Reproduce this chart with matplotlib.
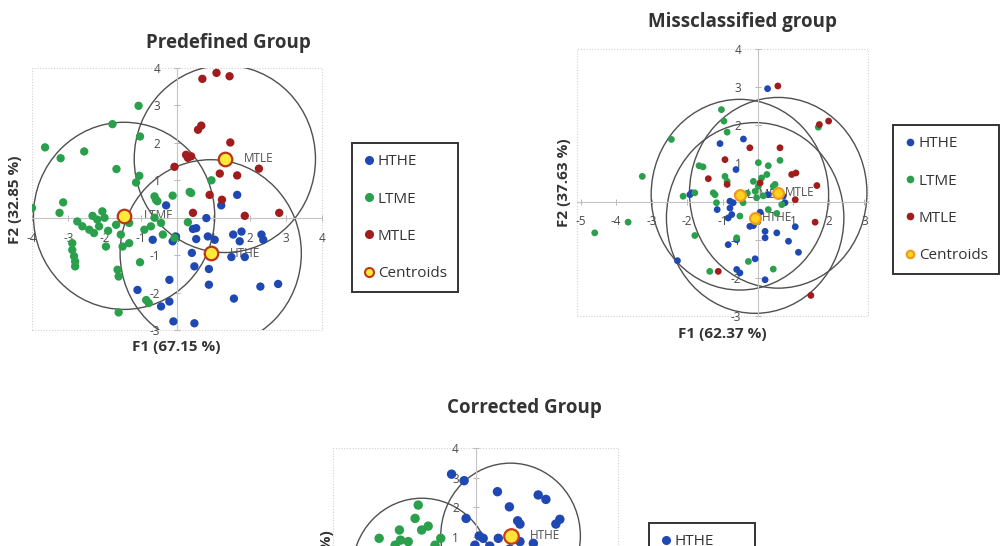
import matplotlib
matplotlib.use("Agg")
import matplotlib.pyplot as plt
from matplotlib.patches import Circle, Rectangle
from matplotlib.lines import Line2D

W, H = 1002, 546  # output size in pixels

plt.rcParams["font.family"] = ["Open Sans", "DejaVu Sans"]
plt.rcParams["axes.unicode_minus"] = False

BLUE = "#1f48b2"
GREEN = "#2a9f4c"
RED = "#a11c1c"
groups = ["HTHE", "LTME", "MTLE"]

# ---- Predefined Group ----
p1_hthe_x = [1.66, 1.22, -0.30, 0.81, 0.53, -0.12, 0.53, 0.85, 1.04, 1.55, 1.78, 1.73, 2.33, 2.38, 0.41, 1.50,
             1.87, 0.48, 0.88, -0.21, 0.88, 2.30, 2.79, 1.57, -0.21, -0.44, -0.10, 0.48, -0.67, 0.44, -1.09, -0.04]
p1_hthe_y = [0.61, 0.33, 0.33, -0.01, -0.28, -0.63, -0.57, -0.50, -0.59, -0.45, -0.37, -0.63, -0.45, -0.59, -0.94, -1.05,
             -1.05, -1.30, -1.37, -1.66, -1.79, -1.84, -1.77, -2.16, -2.24, -2.37, -2.77, -2.82, -0.59, -0.30, -1.93, -0.50]
p1_ltme_x = [-1.06, -1.78, -1.02, -3.64, -3.21, -2.56, -1.67, -1.04, -1.13, -0.62, -0.58, -0.12, 0.39, -3.14, -3.24,
             -4.00, -2.33, -2.06, -2.00, -2.75, -2.61, -2.42, -2.29, -2.15, -1.68, -1.32, -0.90, -0.72, -0.39, -0.62,
             -0.44, -0.07, -1.96, -1.50, -1.32, -2.89, -2.89, -2.84, -2.81, -2.81, -1.02, -1.64, -1.61, -0.78, -1.61,
             0.95, 0.35, -0.54, 0.30, -0.85, -1.90, -1.55, -2.20]
p1_ltme_y = [2.99, 2.50, 2.17, 1.88, 1.59, 1.77, 1.30, 1.12, 0.94, 0.57, 0.48, 0.59, 0.66, 0.41, 0.13,
             0.26, 0.05, 0.17, 0.00, -0.10, -0.23, -0.32, -0.41, -0.23, -0.19, -0.14, -0.32, -0.23, -0.45, 0.00,
             -0.14, -0.54, -0.77, -0.77, -0.68, -0.68, -0.86, -1.03, -1.17, -1.30, -1.19, -1.39, -1.57, -2.28, -2.53,
             1.00, 0.69, 0.44, -0.12, -2.20, -0.35, -0.45, -0.05]
p1_mtle_x = [0.70, 1.09, 1.45, 0.58, 0.67, 1.47, 0.25, 0.39, 0.30, -0.07, 1.18, 1.66, 2.26, 0.90, 1.24, 0.44, 1.87, 2.82]
p1_mtle_y = [3.71, 3.87, 3.78, 2.35, 2.46, 2.01, 1.68, 1.64, 1.60, 1.36, 1.18, 1.13, 1.31, 0.61, 0.48, 0.13, 0.05, 0.13]
p1_cent_x = [0.93, -1.46, 1.32]
p1_cent_y = [-0.95, 0.05, 1.57]

# ---- Missclassified group ----
p2_hthe_x = [0.27, -0.41, -1.07, -0.62, -1.92, -0.79, -0.70, -0.79, -1.15, 0.29, 0.71, 0.76, -0.74, -0.84, -0.13, 0.06,
             0.20, 0.20, 0.53, 1.05, 0.86, 1.14, -0.84, -0.60, -0.08, -0.60, -0.51, 0.20, -2.27, -1.87, -0.23]
p2_hthe_y = [2.96, 1.64, 1.52, 0.84, 0.18, 0.01, -0.03, -0.17, -0.21, 0.18, 0.14, -0.03, -0.34, -0.43, -0.63, -0.28,
             -0.78, -0.95, -0.82, -0.66, -1.04, -1.33, -1.13, -1.00, -1.50, -1.78, -1.87, -2.05, -1.55, 0.23, -0.65]
p2_ltme_x = [-1.03, -0.96, -0.87, -2.44, -3.26, -1.66, -1.55, -0.93, -0.87, 0.01, 0.29, 0.62, 0.25, 0.10, -0.13, 0.01,
             -0.08, 0.48, -2.11, -1.78, -1.21, -1.17, -0.04, -0.42, 0.29, 0.53, -0.51, -1.78, -0.27, -1.36, 0.43,
             -4.60, -3.66, -0.60, 0.67, 1.70, -1.26, 0.43, -0.30, 0.15]
p2_ltme_y = [2.41, 2.11, 1.82, 1.63, 0.66, 0.94, 0.91, 0.66, 0.53, 1.02, 0.94, 1.08, 0.71, 0.62, 0.53, 0.40,
             0.27, 0.45, 0.14, 0.23, 0.18, -0.03, 0.10, -0.03, -0.21, -0.31, -0.38, -0.89, -1.57, -1.83, -1.77,
             -0.82, -0.54, -0.95, -0.08, 1.95, 0.23, 0.40, 0.22, 0.15]
p2_mtle_x = [0.56, 1.73, 1.99, -0.23, 0.62, -0.93, -1.40, -0.87, 0.95, 1.07, 0.06, 1.66, 1.05, 1.61, -1.12, 1.49, -0.04, -0.58]
p2_mtle_y = [3.03, 2.02, 2.11, 1.41, 1.41, 1.10, 0.60, 0.45, 0.71, 0.75, 0.49, 0.42, 0.05, -0.54, -1.83, -2.46, -0.39, 0.18]
p2_cent_x = [-0.08, -0.51, 0.57]
p2_cent_y = [-0.43, 0.18, 0.23]

# ---- Corrected Group (only the top is visible) ----
p3_hthe_x = [-0.84, -0.40, 0.77, 2.20, 2.47, 1.19, -0.33, 1.48, 1.56, 2.96, 2.82, 0.13, 0.27, 0.80, 1.56, 2.03,
             -0.02, 0.50, 1.20, 0.30]
p3_hthe_y = [3.12, 2.90, 2.53, 2.42, 2.27, 2.02, 1.63, 1.55, 1.44, 1.60, 1.44, 1.04, 0.96, 0.96, 0.85, 0.79,
             0.73, 0.70, 0.60, 0.40]
p3_ltme_x = [-2.01, -2.12, -2.67, -1.89, -1.66, -3.38, -2.63, -2.36, -1.22, -2.82, -1.42, -2.30, -3.00]
p3_ltme_y = [2.08, 1.63, 1.24, 1.24, 1.37, 0.96, 0.90, 0.85, 0.96, 0.73, 0.73, 0.50, 0.40]
p3_cent_x = [1.23, -1.88]
p3_cent_y = [1.04, -0.14]

fig = plt.figure(figsize=(W / 100, H / 100), dpi=100)


def px_axes(l, t, r, b):
    # place an axes by its pixel box
    return fig.add_axes([l / W, 1 - b / H, (r - l) / W, (b - t) / H])


def fig_text(x, y, s, **kw):
    fig.text(x / W, 1 - y / H, s, **kw)


def setup(ax, xlim, ylim, xticks, yticks):
    ax.set_xlim(xlim)
    ax.set_ylim(ylim)
    ax.patch.set_alpha(0)
    for s in ["top", "right"]:
        ax.spines[s].set_visible(False)
    for s in ["left", "bottom"]:
        ax.spines[s].set_position(("data", 0))
        ax.spines[s].set_color("#c4c4c4")
        ax.spines[s].set_linewidth(0.8)
    ax.set_xticks(xticks)
    ax.set_yticks(yticks)
    ax.tick_params(direction="inout", length=4, width=0.7, color="#b5b5b5", labelsize=8.5, labelcolor="#4a4a4a")
    ax.tick_params(axis="x", pad=8)
    ax.tick_params(axis="y", pad=10)
    ax.add_patch(Rectangle((0, 0), 1, 1, transform=ax.transAxes, fill=False, ec="#d2d2d2",
                           lw=0.8, ls=(0, (1, 1.5)), clip_on=False))


def draw_groups(ax, series, size, cx, cy, radius, cface, cedge, csize, label_off):
    for (x, y), col in zip(series, [BLUE, GREEN, RED]):
        ax.scatter(x, y, s=size, color=col, edgecolors="none", zorder=3)
    for i in range(len(cx)):
        ax.add_patch(Circle((cx[i], cy[i]), radius, fill=False, ec="#505050", lw=1.0, zorder=2))
        ax.scatter(cx[i], cy[i], s=csize, color=cface, edgecolors=cedge, linewidths=1.6, zorder=5)
        ax.annotate(groups[i], (cx[i], cy[i]), xytext=(label_off, 0), textcoords="offset points",
                    va="center", ha="left", fontsize=8.5, color="#505050", zorder=2.5)


def add_legend(x, y, ms, cface, cedge):
    handles = [Line2D([], [], ls="none", marker="o", ms=ms, mfc=c, mec=c) for c in [BLUE, GREEN, RED]]
    handles.append(Line2D([], [], ls="none", marker="o", ms=ms + 1, mfc=cface, mec=cedge, mew=1.5))
    leg = fig.legend(handles, groups + ["Centroids"], loc="upper left", bbox_to_anchor=(x / W, 1 - y / H),
                     frameon=True, fancybox=False, edgecolor="black", fontsize=11, labelspacing=1.45,
                     handletextpad=0.25, handlelength=0.7, borderpad=0.75, borderaxespad=0)
    leg.get_frame().set_linewidth(1.4)
    for t in leg.get_texts():
        t.set_color("#333333")


# panel 1
ax1 = px_axes(32, 68, 322, 330)
setup(ax1, (-4, 4), (-3, 4), [-4, -3, -2, -1, 0, 1, 2, 3, 4], [-3, -2, -1, 1, 2, 3, 4])
draw_groups(ax1, [(p1_hthe_x, p1_hthe_y), (p1_ltme_x, p1_ltme_y), (p1_mtle_x, p1_mtle_y)], 36,
            p1_cent_x, p1_cent_y, 2.5, "#ffea3a", "#b8341a", 95, 14)
fig_text(228, 43, "Predefined Group", ha="center", va="center", fontsize=13.5, fontweight="bold", color="#333")
fig_text(176, 347, "F1 (67.15 %)", ha="center", va="center", fontsize=11, fontweight="bold", color="#333")
fig_text(15, 200, "F2 (32.85 %)", ha="center", va="center", rotation=90, fontsize=11, fontweight="bold", color="#333")
add_legend(352, 143, 5.5, "#ffea3a", "#c0391b")

# panel 2
ax2 = px_axes(577, 49, 868, 316)
setup(ax2, (-5.1, 3.1), (-3, 4), [-5, -4, -3, -2, -1, 0, 1, 2, 3], [-3, -2, -1, 1, 2, 3, 4])
draw_groups(ax2, [(p2_hthe_x, p2_hthe_y), (p2_ltme_x, p2_ltme_y), (p2_mtle_x, p2_mtle_y)], 24,
            p2_cent_x, p2_cent_y, 2.5, "#ffd21f", "#f29a1a", 60, 5)
fig_text(743, 22, "Missclassified group", ha="center", va="center", fontsize=13.5, fontweight="bold", color="#333")
fig_text(722, 334, "F1 (62.37 %)", ha="center", va="center", fontsize=11, fontweight="bold", color="#333")
fig_text(564, 183, "F2 (37.63 %)", ha="center", va="center", rotation=90, fontsize=11, fontweight="bold", color="#333")
add_legend(893, 125, 4.5, "#ffd21f", "#f29a1a")

# panel 3 (cut off by the bottom edge, as in the source)
ax3 = px_axes(333, 448, 618, 656)
setup(ax3, (-5, 5), (-3, 4), [], [1, 2, 3, 4])
draw_groups(ax3, [(p3_hthe_x, p3_hthe_y), (p3_ltme_x, p3_ltme_y), ([], [])], 46,
            p3_cent_x, p3_cent_y, 2.45, "#ffe23a", "#cc3b12", 110, 14)
fig_text(524, 408, "Corrected Group", ha="center", va="center", fontsize=13.5, fontweight="bold", color="#333")
fig_text(327, 530, "F2 (33.16 %)", ha="center", va="top", rotation=90, fontsize=11, fontweight="bold", color="#333")
add_legend(649, 523, 5.5, "#ffe23a", "#cc3b12")

fig.savefig("out.png", dpi=100)
